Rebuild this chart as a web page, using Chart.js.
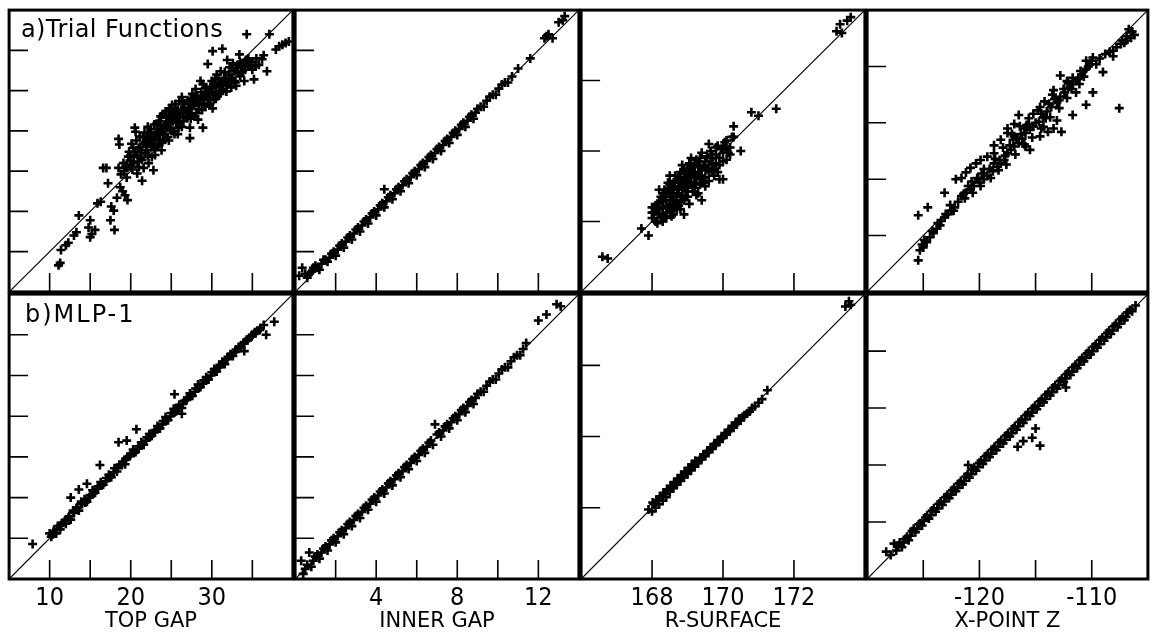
<!DOCTYPE html>
<html>
<head>
<meta charset="utf-8">
<script src="https://cdn.jsdelivr.net/npm/chart.js@4.4.1/dist/chart.umd.min.js"></script>
<style>
  body { margin: 0; background: #fff; }
  #wrap { position: relative; width: 1152px; height: 644px; overflow: hidden; background: #fff; }
  canvas { position: absolute; }
  .cap { position: absolute; font-family: 'DejaVu Sans', sans-serif; font-size: 24px; line-height: 24px; color: #000; white-space: nowrap; }
</style>
</head>
<body>
<div id="wrap">
  <canvas id="p00"></canvas>
  <canvas id="p01"></canvas>
  <canvas id="p02"></canvas>
  <canvas id="p03"></canvas>
  <canvas id="p10"></canvas>
  <canvas id="p11"></canvas>
  <canvas id="p12"></canvas>
  <canvas id="p13"></canvas>
  <div class="cap" style="left:21px; top:17px; letter-spacing:0.4px;">a)Trial Functions</div>
  <div class="cap" style="left:25px; top:302px; letter-spacing:2px;">b)MLP-1</div>
</div>
<script>
// axes: range, tick marks, labelled ticks, title
var topGapRange = [5, 40];
var topGapTicks = [10, 15, 20, 25, 30, 35];
var topGapLabels = [10, 20, 30];

var innerGapRange = [0, 14];
var innerGapTicks = [2, 4, 6, 8, 10, 12];
var innerGapLabels = [4, 8, 12];

var rSurfaceRange = [166, 174];
var rSurfaceTicks = [168, 170, 172];
var rSurfaceLabels = [168, 170, 172];

var xPointRange = [-130, -105];
var xPointTicks = [-125, -120, -115, -110];
var xPointLabels = [-120, -110];

var axisTitles = ['TOP GAP', 'INNER GAP', 'R-SURFACE', 'X-POINT Z'];

// a) Trial Functions  [actual, predicted]
var topGapTrial = [
  [11.1,8.3],[11.3,8.6],[11.4,10.2],[12.0,10.8],[12.3,11.1],[13.0,12.0],[13.3,12.4],[13.6,14.5],[14.8,13.0],[15.0,13.9],
  [15.2,12.2],[15.6,12.7],[15.0,11.8],[15.9,16.0],[16.3,16.2],[16.6,20.4],[17.0,20.4],[17.2,18.5],[17.5,13.9],[18.0,12.7],
  [17.9,15.1],[17.6,15.6],[18.3,16.7],[18.5,20.4],[18.5,24.0],[18.6,23.3],[18.7,18.0],[19.0,17.5],[19.5,19.2],[19.6,16.4],
  [19.3,17.0],[19.9,21.3],[20.3,22.9],[20.5,25.4],[20.6,24.9],[20.8,19.7],[21.0,20.5],[21.2,21.7],[21.4,18.8],[21.6,23.4],
  [21.8,22.2],[22.0,24.0],[22.2,21.0],[22.4,24.6],[22.6,23.0],[22.8,20.1],[23.0,22.0],[23.2,25.9],[23.4,24.5],[23.6,23.8],
  [23.8,22.6],[24.0,27.1],[24.2,25.8],[24.5,25.4],[24.6,24.2],[24.8,27.8],[25.0,26.5],[25.2,25.0],[25.4,27.2],[25.7,26.6],
  [25.9,25.4],[26.0,28.7],[26.2,27.6],[26.5,26.2],[26.9,27.5],[27.0,28.8],[27.3,25.4],[27.3,24.1],[27.5,27.0],[27.6,29.6],
  [27.8,28.2],[28.1,27.2],[28.5,28.7],[28.7,29.8],[28.9,30.8],[28.9,25.4],[29.2,28.0],[29.4,29.2],[29.7,29.9],[30.0,31.2],
  [30.1,27.8],[30.3,29.0],[30.6,32.0],[30.9,30.8],[31.0,29.6],[31.3,35.2],[31.5,31.6],[31.8,29.9],[32.0,31.0],[32.2,32.9],
  [32.5,31.6],[32.8,32.4],[33.0,30.6],[33.4,34.5],[33.6,33.0],[33.8,32.4],[34.0,31.2],[34.3,37.0],[34.5,33.0],[34.6,33.6],
  [35.0,32.6],[35.2,31.4],[35.5,34.0],[36.2,33.9],[36.8,32.4],[37.1,37.0],[37.9,35.1],[38.3,35.5],[38.7,35.7],[39.1,35.9],
  [39.5,36.1],[30.1,34.9],[29.5,33.3],[31.9,33.8],[19.2,20.0],[19.8,22.4],[20.0,20.8],[20.4,21.8],[21.0,22.8],[21.5,24.2],
  [22.0,22.6],[22.5,25.2],[23.0,24.0],[23.5,26.2],[24.0,24.6],[24.4,26.6],[25.0,27.6],[25.5,28.3],[26.0,26.0],[26.4,28.5],
  [27.0,26.6],[27.3,27.8],[28.0,30.2],[28.3,26.4],[29.0,29.0],[29.8,28.4],[30.5,30.4],[31.2,30.6],[32.4,30.4],[33.2,32.2],
  [34.2,33.8],[18.8,19.6],[19.1,21.0],[19.4,20.6],[19.7,21.8],[20.1,23.4],[20.2,20.2],[20.5,22.4],[20.7,23.8],[20.9,21.2],
  [21.1,24.3],[21.3,22.6],[21.6,20.4],[21.7,24.8],[21.9,23.2],[22.1,25.5],[22.3,23.8],[22.6,21.8],[22.7,24.2],[22.9,25.8],
  [23.1,23.0],[23.3,24.9],[23.6,25.2],[23.7,26.8],[23.9,23.6],[24.1,25.3],[24.3,27.4],[24.5,26.0],[24.7,23.8],[24.9,26.2],
  [25.1,28.2],[25.3,26.9],[25.6,27.4],[25.8,24.6],[26.0,27.1],[26.3,29.2],[26.6,27.8],[26.8,26.8],[27.1,28.3],[27.4,29.0],
  [27.7,28.7],[27.9,26.8],[28.2,29.4],[28.4,28.2],[28.6,31.2],[28.8,27.6],[29.1,29.6],[29.3,30.4],[29.6,28.8],[29.9,30.5],
  [30.2,29.6],[30.4,31.5],[30.7,29.3],[31.0,31.0],[31.1,32.4],[31.4,30.2],[31.7,31.2],[32.1,32.0],[32.6,33.4],[32.9,31.0],
  [33.2,33.2],[33.5,31.8],[33.9,33.2],[34.8,33.2],[35.8,33.2],[36.4,34.4],
  [19.5,20.5],[20.0,22.0],[20.3,21.0],[20.8,22.0],[21.1,23.0],[21.4,21.4],[21.8,23.6],[22.1,22.0],[22.3,24.8],[22.6,23.5],
  [22.9,22.8],[23.2,24.6],[23.4,23.2],[23.7,25.6],[23.9,24.9],[24.2,23.9],[24.4,25.6],[24.7,26.9],[24.9,25.2],[25.2,26.2],
  [25.4,24.6],[25.6,26.0],[25.8,27.6],[26.1,26.7],[26.3,25.5],[26.6,28.4],[26.8,27.2],[27.1,27.8],[27.4,26.5],[27.6,28.1],
  [27.9,29.2],[28.1,28.6],[28.4,27.7],[28.7,29.2],[28.9,28.4],[29.2,30.3],[29.5,29.7],[29.7,28.2],[30.0,29.8],[30.2,30.8],
  [30.5,29.0],[30.8,31.4],[31.1,30.0],[31.4,31.0],[31.6,32.3],[31.9,30.7],[32.2,31.5],[32.5,32.8],[32.8,31.2],[33.1,32.8],
  [33.5,33.5],[33.8,33.0],[34.1,32.6],[34.5,34.0],[35.0,33.6],[35.4,33.0]
];

var innerGapTrial = [
  [0.2,0.8],[0.35,1.2],[0.6,0.7],[0.8,1.0],[1.0,1.3],[1.2,1.1],[1.4,1.6],[1.6,1.5],[1.8,1.9],[2.0,1.8],
  [2.2,2.3],[2.4,2.2],[2.6,2.7],[2.8,2.6],[3.0,3.1],[3.2,3.0],[3.4,3.5],[3.6,3.4],[3.8,3.9],[4.0,3.8],
  [4.2,4.3],[4.4,5.1],[4.4,4.2],[4.6,4.7],[4.8,4.6],[5.0,5.1],[5.2,5.0],[5.4,5.5],[5.6,5.4],[5.8,5.9],
  [6.0,5.8],[6.2,6.3],[6.4,6.2],[6.6,6.7],[6.8,6.6],[7.0,7.1],[7.2,7.0],[7.4,7.5],[7.6,7.4],[7.8,7.9],
  [8.0,7.8],[8.2,8.3],[8.4,8.2],[8.6,8.7],[8.8,8.6],[9.0,9.1],[9.3,9.2],[9.6,9.7],[9.9,9.8],[10.2,10.3],
  [10.5,10.4],[11.0,11.1],[11.6,11.6],[12.3,12.6],[12.5,12.8],[12.7,12.6],[13.0,13.4],[13.2,13.5],[13.3,13.7],
  [0.5,0.9],[0.7,0.9],[0.9,1.2],[1.1,1.2],[1.3,1.4],[1.5,1.6],[1.7,1.7],[1.9,2.0],[2.1,2.1],[2.3,2.4],
  [2.5,2.5],[2.7,2.8],[2.9,2.9],[3.1,3.2],[3.3,3.3],[3.5,3.6],[3.7,3.7],[3.9,4.0],[4.1,4.1],[4.3,4.4],
  [4.5,4.5],[4.7,4.8],[4.9,4.9],[5.1,5.2],[5.3,5.3],[5.5,5.6],[5.7,5.7],[5.9,6.0],[6.1,6.1],[6.3,6.4],
  [6.5,6.5],[6.7,6.8],[6.9,6.9],[7.1,7.2],[7.3,7.3],[7.5,7.6],[7.7,7.7],[7.9,8.0],[8.1,8.1],[8.3,8.4],
  [8.5,8.5],[8.7,8.8],[8.9,8.9],[9.15,9.2],[9.45,9.5],[9.75,9.8],[10.05,10.1],[10.35,10.4],[10.7,10.7],[12.4,12.7]
];

var rSurfaceTrial = [
  [166.6,167.0],[166.75,166.95],[167.7,167.8],[167.9,167.6],[170.0,169.2],[170.5,170.0],[170.8,171.1],[171.0,171.0],
  [171.5,171.2],[170.3,170.7],[170.3,170.4],[173.2,173.4],[173.3,173.6],[173.35,173.35],[173.5,173.7],[173.6,173.8],
  [168.0,168.1],[168.0,168.4],[168.05,168.25],[168.1,168.0],[168.15,168.5],[168.2,168.2],[168.25,168.7],[168.3,168.4],
  [168.3,168.0],[168.35,168.9],[168.4,168.6],[168.4,168.25],[168.45,169.1],[168.5,168.8],[168.5,168.45],[168.55,168.15],
  [168.6,169.0],[168.6,168.6],[168.65,169.3],[168.7,168.8],[168.7,168.35],[168.75,169.1],[168.8,168.55],[168.8,169.4],
  [168.85,168.9],[168.9,168.2],[168.9,169.2],[168.95,168.7],[169.0,169.5],[169.0,169.0],[169.05,168.5],[169.1,169.3],
  [169.15,168.85],[169.2,169.6],[169.2,169.1],[169.3,169.4],[169.3,168.8],[169.35,169.8],[169.4,169.2],[169.45,169.55],
  [169.5,169.0],[169.55,169.85],[169.6,169.4],[169.65,170.0],[169.7,169.65],[169.75,169.3],[169.8,169.9],[169.85,170.15],
  [169.9,169.6],[170.0,169.95],[170.05,170.25],[170.1,169.75],[170.2,170.1],[170.25,170.4],[169.1,169.8],[168.5,169.3],
  [168.2,168.9],[169.4,168.6],[169.9,169.2],[168.85,169.6],[169.6,170.2],[168.3,168.65],[168.6,168.95],
  [168.1,168.3],[168.2,168.55],[168.3,168.8],[168.35,168.15],[168.45,168.4],[168.5,169.05],[168.55,168.7],[168.65,168.5],
  [168.7,169.2],[168.75,168.9],[168.8,169.0],[168.9,169.45],[168.95,168.95],[169.0,168.7],[169.05,169.35],[169.1,169.1],
  [169.15,169.55],[169.25,169.25],[169.3,169.6],[169.35,169.05],[169.4,169.45],[169.5,169.7],[169.5,169.25],[169.6,169.6],
  [169.7,169.9],[169.75,169.5],[169.8,170.1],[169.9,169.8],[170.0,170.1],[170.1,170.3],[170.15,169.95],[168.0,168.25],
  [168.15,167.95],[168.4,168.85],[168.6,168.35],[168.7,168.6],[168.85,168.75],[169.0,169.2],[169.2,168.95],[169.25,169.75],
  [168.1,168.45],[168.2,168.35],[168.25,168.1],[168.3,168.55],[168.35,168.75],[168.4,168.45],[168.45,168.95],[168.5,168.6],
  [168.55,168.3],[168.6,168.8],[168.65,169.15],[168.7,168.7],[168.75,168.45],[168.8,169.25],[168.85,169.05],[168.9,168.6],
  [168.95,169.35],[169.0,168.85],[169.05,169.65],[169.1,169.45],[169.15,169.0],[169.2,169.4],[169.25,168.75],[169.3,169.7],
  [169.35,169.3],[169.4,169.95],[169.45,169.1],[169.55,169.5],[169.6,169.15],[169.65,169.8],[169.7,169.45],[169.8,169.65],
  [169.85,169.4],[169.95,170.05],[170.0,169.7],[170.1,170.05],[170.2,169.9],[168.55,168.9],[168.75,169.25],[168.95,169.15],
  [169.15,169.35],[169.35,169.55],[168.4,168.1],[168.6,168.2],[168.8,168.35]
];

var xPointTrial = [
  [-125.45,-127.2],[-125.3,-126.3],[-125.0,-126.05],[-124.7,-125.6],[-124.4,-125.15],[-124.1,-124.8],[-123.8,-124.4],
  [-123.5,-124.1],[-123.4,-123.7],[-123.1,-123.4],[-122.8,-123.1],[-122.5,-122.8],[-122.2,-122.5],[-125.45,-123.2],
  [-124.6,-122.5],[-123.1,-121.2],[-122.1,-120.0],[-121.6,-119.9],[-121.2,-119.4],[-120.8,-119.0],[-120.3,-118.6],
  [-119.9,-118.3],[-119.3,-118.0],[-121.6,-121.5],[-121.2,-121.2],[-120.8,-120.9],[-120.5,-120.6],[-120.0,-120.3],
  [-119.6,-120.0],[-119.3,-119.7],[-118.8,-119.3],[-118.4,-118.9],[-118.1,-118.6],[-117.8,-118.3],[-117.5,-117.7],
  [-117.2,-117.4],[-116.9,-117.1],[-116.5,-116.8],[-116.2,-116.4],[-115.9,-115.9],[-115.5,-115.6],[-115.2,-115.35],
  [-114.7,-114.9],[-114.3,-114.5],[-114.0,-114.0],[-113.6,-113.6],[-113.1,-113.2],[-112.8,-112.7],[-112.4,-112.3],
  [-111.95,-111.8],[-111.7,-111.55],[-111.2,-111.1],[-110.9,-110.7],[-110.5,-110.2],[-110.2,-109.8],[-109.9,-109.2],
  [-110.5,-109.5],[-115.9,-117.1],[-115.5,-117.4],[-114.6,-116.2],[-113.4,-115.5],[-113.9,-115.8],[-112.7,-115.8],
  [-111.7,-114.3],[-110.5,-113.4],[-109.9,-112.3],[-109.0,-110.5],[-107.55,-113.7],[-112.8,-110.8],[-116.5,-114.3],
  [-117.5,-115.9],[-118.1,-116.5],[-118.7,-117.0],[-114.6,-113.6],[-115.2,-114.2],[-116.9,-115.1],[-117.5,-115.5],
  [-113.4,-112.1],[-112.2,-111.3],[-111.7,-111.0],[-111.1,-111.55],[-113.1,-114.8],[-114.3,-115.35],[-118.7,-118.6],
  [-119.6,-119.1],[-120.2,-119.9],[-118.7,-117.7],[-116.9,-116.2],[-115.8,-115.2],[-108.1,-108.6],[-107.8,-108.3],
  [-107.4,-108.0],[-106.95,-107.7],[-106.5,-107.45],[-106.2,-107.2],[-106.4,-106.9],[-106.7,-106.7],[-107.3,-107.7],
  [-108.1,-109.1],[-125.1,-125.8],[-124.9,-125.4],[-124.2,-124.6],[-123.7,-123.9],[-123.0,-123.1],[-122.6,-122.3],
  [-122.3,-122.8],[-121.9,-122.0],[-121.4,-121.3],[-121.0,-120.6],[-120.7,-120.2],[-120.1,-120.0],[-119.8,-119.5],
  [-119.1,-119.1],[-118.6,-118.2],[-118.2,-118.3],[-117.7,-117.9],[-117.3,-117.0],[-117.0,-116.5],[-116.7,-116.3],
  [-116.3,-116.0],[-116.0,-115.5],[-115.6,-115.1],[-115.0,-115.0],[-114.5,-114.2],[-114.1,-114.6],[-113.8,-113.3],
  [-113.3,-112.9],[-112.9,-113.0],[-112.5,-112.0],[-112.1,-111.5],[-111.8,-112.0],[-111.4,-111.3],[-111.0,-110.4],
  [-110.7,-110.9],[-110.3,-110.0],[-110.0,-109.5],[-109.6,-109.8],[-109.3,-109.3],[-108.8,-108.9],[-108.4,-108.7],
  [-107.1,-107.9],[-106.9,-107.3],
  [-121.3,-121.7],[-120.6,-121.2],[-119.9,-120.6],[-119.0,-119.9],[-118.3,-119.2],[-117.6,-118.7],[-116.8,-117.8],
  [-116.0,-116.9],[-115.3,-116.3],[-114.5,-115.5],[-113.7,-114.5],[-112.9,-113.7],[-112.2,-112.8],[-111.4,-112.3],
  [-117.9,-117.2],[-117.1,-116.0],[-116.4,-115.3],[-115.6,-114.6],[-114.8,-113.9],[-114.2,-113.1],[-113.5,-112.5]
];

// b) MLP-1  [actual, predicted]
var topGapMlp = [
  [7.9,9.3],[10.0,10.6],[10.2,10.2],[10.5,10.9],[10.8,10.6],[11.0,11.5],[11.3,11.1],[11.6,11.9],[12.0,11.8],[12.3,12.5],
  [12.6,12.3],[12.6,15.0],[13.0,13.1],[13.3,13.7],[13.6,13.4],[13.6,16.0],[14.0,14.2],[14.3,14.8],[14.6,14.5],[14.6,16.7],
  [15.0,15.3],[15.3,15.9],[15.6,15.6],[16.0,16.4],[16.2,19.0],[16.3,16.9],[16.6,16.6],[17.0,17.4],[17.3,17.8],[17.6,17.5],
  [18.0,18.6],[18.3,18.2],[18.5,21.8],[18.6,19.0],[19.0,19.4],[19.3,19.1],[19.5,22.0],[19.6,20.0],[20.0,20.4],[20.3,20.9],
  [20.6,20.6],[20.7,23.4],[21.0,21.3],[21.3,21.8],[21.6,21.5],[22.0,22.4],[22.3,22.8],[22.6,22.6],[23.0,23.3],[23.3,23.8],
  [23.6,23.5],[24.0,24.4],[24.3,24.9],[24.6,24.5],[25.0,25.4],[25.3,25.9],[25.4,27.7],[25.6,25.6],[26.0,26.4],[26.3,26.0],
  [26.3,25.3],[26.6,26.9],[27.0,27.3],[27.3,27.8],[27.6,27.5],[28.0,28.4],[28.3,28.9],[28.6,28.6],[29.0,29.4],[29.3,29.8],
  [29.6,29.5],[30.0,30.4],[30.3,30.8],[30.6,30.5],[31.0,31.3],[31.3,31.7],[31.6,31.4],[32.0,32.3],[32.3,32.6],[32.6,32.4],
  [33.0,33.2],[33.3,33.5],[33.6,33.4],[34.0,33.0],[34.0,34.1],[34.3,34.4],[34.6,34.6],[35.0,35.0],[35.3,35.3],[35.6,35.5],
  [36.0,35.8],[36.4,36.2],[36.7,35.0],[37.7,36.6],
  [10.4,10.5],[10.9,11.1],[11.4,11.6],[11.9,12.2],[12.4,12.7],[12.9,13.4],[13.4,13.8],[13.9,14.5],[14.4,14.4],[14.9,15.0],
  [15.4,15.5],[15.9,16.1],[16.4,16.5],[16.9,17.0],[17.4,17.5],[17.9,18.1],[18.4,18.7],[18.9,19.0],[19.4,19.7],[19.9,20.1],
  [20.4,20.5],[20.9,21.0],[21.4,21.5],[21.9,22.0],[22.4,22.5],[22.9,23.0],[23.4,23.5],[23.9,24.0],[24.4,24.5],[24.9,25.0],
  [25.4,25.5],[25.9,26.1],[26.4,26.5],[26.9,27.0],[27.4,27.5],[27.9,28.0],[28.4,28.5],[28.9,29.0],[29.4,29.5],[29.9,30.0],
  [30.4,30.5],[30.9,31.0],[31.4,31.5],[31.9,32.0],[32.4,32.5],[32.9,32.9],[33.4,33.4],[33.9,33.9],[34.4,34.3],[34.9,34.8],
  [35.4,35.2],[35.9,35.6]
];

var innerGapMlp = [
  [0.4,0.25],[0.6,0.7],[0.8,0.6],[1.0,1.1],[1.2,1.0],[1.4,1.5],[1.6,1.4],[1.8,1.9],[2.0,1.8],[2.2,2.3],
  [2.4,2.2],[2.6,2.7],[2.8,2.6],[3.0,3.1],[3.2,3.0],[3.4,3.5],[3.6,3.4],[3.8,3.9],[4.0,3.8],[4.2,4.3],
  [4.4,4.2],[4.6,4.7],[4.8,4.6],[5.0,5.1],[5.2,5.0],[5.4,5.5],[5.6,5.4],[5.8,5.9],[6.0,5.8],[6.2,6.3],
  [6.4,6.2],[6.6,6.7],[6.8,6.6],[7.0,7.1],[7.2,7.0],[7.4,7.5],[7.6,7.4],[7.8,7.9],[8.0,7.8],[8.2,8.3],
  [8.4,8.2],[8.6,8.7],[8.8,8.6],[9.0,9.1],[9.3,9.2],[9.6,9.7],[9.9,9.8],[10.2,10.3],[10.5,10.4],[10.8,10.9],
  [11.1,11.0],[11.4,11.6],[12.0,12.7],[12.4,13.0],[12.9,13.5],[13.1,13.4],[0.3,0.9],[0.7,1.3],[6.9,7.6],
  [0.5,0.5],[0.9,0.9],[1.1,1.2],[1.3,1.3],[1.5,1.6],[1.7,1.7],[1.9,2.0],[2.1,2.1],[2.3,2.4],[2.5,2.5],
  [2.7,2.8],[2.9,2.9],[3.1,3.2],[3.3,3.3],[3.5,3.6],[3.7,3.7],[3.9,4.0],[4.1,4.1],[4.3,4.4],[4.5,4.5],
  [4.7,4.8],[4.9,4.9],[5.1,5.2],[5.3,5.3],[5.5,5.6],[5.7,5.7],[5.9,6.0],[6.1,6.1],[6.3,6.4],[6.5,6.5],
  [6.7,6.8],[7.1,7.2],[7.3,7.3],[7.5,7.6],[7.7,7.7],[7.9,8.0],[8.1,8.1],[8.3,8.4],[8.5,8.5],[8.7,8.8],
  [8.9,8.9],[9.15,9.2],[9.45,9.5],[9.75,9.8],[10.05,10.1],[10.35,10.4],[10.65,10.7],[10.95,11.0],[11.25,11.3]
];

var rSurfaceMlp = [
  [167.9,167.95],[168.0,167.9],[168.05,168.1],[168.1,168.0],[168.15,168.2],[168.2,168.1],[168.25,168.3],[168.3,168.2],
  [168.35,168.4],[168.4,168.3],[168.45,168.5],[168.5,168.45],[168.55,168.6],[168.6,168.55],[168.65,168.7],[168.7,168.65],
  [168.75,168.8],[168.8,168.75],[168.85,168.9],[168.9,168.85],[168.95,169.0],[169.0,168.95],[169.05,169.1],[169.1,169.05],
  [169.15,169.2],[169.2,169.15],[169.25,169.3],[169.3,169.25],[169.4,169.4],[169.5,169.45],[169.6,169.6],[169.7,169.65],
  [169.8,169.8],[169.9,169.85],[170.0,170.0],[170.1,170.05],[170.2,170.2],[170.3,170.25],[170.4,170.4],[170.5,170.45],
  [170.6,170.6],[170.75,170.7],[170.9,170.85],[171.1,171.05],[171.25,171.3],[173.45,173.65],[173.55,173.8],[173.6,173.7],
  [168.02,168.15],[168.12,168.22],[168.22,168.32],[168.32,168.42],[168.42,168.52],[168.52,168.62],[168.62,168.72],
  [168.72,168.82],[168.82,168.92],[168.92,169.02],[169.02,169.12],[169.12,169.22],[169.22,169.32],[169.35,169.35],
  [169.45,169.5],[169.55,169.55],[169.65,169.7],[169.75,169.75],[169.85,169.9],[169.95,169.95],[170.05,170.1],
  [170.15,170.15],[170.25,170.3],[170.35,170.35],[170.45,170.5],[170.55,170.55],[170.68,170.65],[170.82,170.8],[171.0,170.95]
];

var xPointMlp = [
  [-127.4,-127.5],[-127.1,-126.8],[-126.9,-127.2],[-126.6,-126.5],[-126.3,-126.6],[-126.0,-125.8],[-125.7,-125.9],
  [-125.4,-125.2],[-125.1,-125.3],[-124.8,-124.6],[-124.5,-124.7],[-124.2,-124.0],[-123.9,-124.1],[-123.6,-123.4],
  [-123.3,-123.5],[-123.0,-122.8],[-122.7,-122.9],[-122.4,-122.2],[-122.1,-122.3],[-121.8,-121.6],[-121.5,-121.7],
  [-121.2,-121.0],[-120.9,-121.1],[-120.6,-120.4],[-120.3,-120.5],[-120.0,-119.8],[-119.7,-119.9],[-119.4,-119.2],
  [-119.1,-119.3],[-118.8,-118.6],[-118.5,-118.7],[-118.2,-118.0],[-117.9,-118.1],[-117.6,-117.4],[-117.3,-117.5],
  [-117.0,-116.8],[-116.7,-116.9],[-116.4,-116.2],[-116.1,-116.3],[-115.8,-115.6],[-115.5,-115.7],[-115.2,-115.0],
  [-114.9,-115.1],[-114.6,-114.4],[-114.3,-114.5],[-114.0,-113.8],[-113.7,-113.9],[-113.4,-113.2],[-113.1,-113.3],
  [-112.8,-112.6],[-112.5,-112.7],[-112.2,-112.0],[-111.9,-112.1],[-111.6,-111.4],[-111.3,-111.5],[-111.0,-110.8],
  [-110.7,-110.9],[-110.4,-110.2],[-110.1,-110.3],[-109.8,-109.6],[-109.5,-109.7],[-109.2,-109.0],[-108.9,-109.1],
  [-108.6,-108.4],[-108.3,-108.5],[-108.0,-107.8],[-107.7,-107.9],[-107.4,-107.2],[-107.1,-107.3],[-106.8,-106.6],
  [-106.4,-106.5],[-106.1,-106.0],[-128.3,-127.6],[-127.9,-127.9],[-127.6,-126.9],[-116.1,-117.9],[-115.3,-117.6],
  [-114.6,-118.3],[-115.0,-116.8],[-116.6,-118.4],[-121.0,-120.0],[-112.3,-113.2],
  [-127.25,-127.1],[-126.75,-126.8],[-126.45,-126.3],[-126.15,-126.2],[-125.85,-125.6],[-125.55,-125.6],[-125.25,-125.1],
  [-124.95,-124.9],[-124.65,-124.4],[-124.35,-124.4],[-124.05,-123.8],[-123.75,-123.8],[-123.45,-123.2],[-123.15,-123.2],
  [-122.85,-122.6],[-122.55,-122.6],[-122.25,-122.0],[-121.95,-122.0],[-121.65,-121.4],[-121.35,-121.4],[-121.05,-120.8],
  [-120.75,-120.8],[-120.45,-120.2],[-120.15,-120.2],[-119.85,-119.6],[-119.55,-119.6],[-119.25,-119.0],[-118.95,-119.0],
  [-118.65,-118.4],[-118.35,-118.4],[-118.05,-117.8],[-117.75,-117.8],[-117.45,-117.2],[-117.15,-117.2],[-116.85,-116.6],
  [-116.55,-116.6],[-116.25,-116.0],[-115.95,-116.0],[-115.65,-115.4],[-115.35,-115.4],[-115.05,-114.8],[-114.75,-114.8],
  [-114.45,-114.2],[-114.15,-114.2],[-113.85,-113.6],[-113.55,-113.6],[-113.25,-113.0],[-112.95,-113.0],[-112.65,-112.4],
  [-112.35,-112.4],[-112.05,-111.8],[-111.75,-111.8],[-111.45,-111.2],[-111.15,-111.2],[-110.85,-110.6],[-110.55,-110.6],
  [-110.25,-110.0],[-109.95,-110.0],[-109.65,-109.4],[-109.35,-109.4],[-109.05,-108.8],[-108.75,-108.8],[-108.45,-108.2],
  [-108.15,-108.2],[-107.85,-107.6],[-107.55,-107.6],[-107.25,-107.0],[-106.95,-107.0],[-106.6,-106.4]
];

var colLeft = [8, 294, 580, 866];
var colRight = [294, 580, 866, 1149];
var rowTop = [9, 293];
var rowBottom = [293, 579];

var framePlugin = {
    id: 'frame',
    afterDatasetsDraw: function(chart, args, opts) {
        var ctx = chart.ctx;
        var a = chart.chartArea;
        var xs = chart.scales.x, ys = chart.scales.y;
        ctx.save();
        ctx.strokeStyle = '#000';
        ctx.lineWidth = 1.6;
        opts.ticks.forEach(function(v) {
            var px = xs.getPixelForValue(v);
            var py = ys.getPixelForValue(v);
            ctx.beginPath();
            ctx.moveTo(px, a.bottom);
            ctx.lineTo(px, a.bottom - 19);
            ctx.moveTo(a.left, py);
            ctx.lineTo(a.left + 19, py);
            ctx.stroke();
        });
        ctx.lineWidth = 3;
        ctx.strokeRect(a.left, a.top, a.right - a.left, a.bottom - a.top);
        ctx.restore();
    }
};

function makePanel(row, col, points, range, ticks, labels, title) {
    var canvas = document.getElementById('p' + row + col);
    var pad = 6;
    var labelBand = 64;
    var w = colRight[col] - colLeft[col];
    var h = rowBottom[row] - rowTop[row];
    var bottomRow = row === 1;
    canvas.width = w + 2 * pad;
    canvas.height = h + pad + (bottomRow ? labelBand : pad);
    canvas.style.left = (colLeft[col] - pad) + 'px';
    canvas.style.top = (rowTop[row] - pad) + 'px';

    var xScale = {
        type: 'linear',
        min: range[0],
        max: range[1],
        display: bottomRow,
        grid: { display: false, drawTicks: false },
        border: { display: false },
        afterBuildTicks: function(s) {
            s.ticks = labels.map(function(v) { return { value: v }; });
        },
        ticks: {
            autoSkip: false,
            maxRotation: 0,
            padding: 4,
            color: '#000',
            font: { family: "'Liberation Sans Narrow', 'DejaVu Sans Condensed', sans-serif", size: 25 },
            callback: function(v) { return String(v); }
        },
        title: {
            display: true,
            text: title,
            color: '#000',
            padding: { top: 0, bottom: 9 },
            font: { family: "'DejaVu Sans', sans-serif", size: 21 }
        }
    };
    if (bottomRow) {
        xScale.afterFit = function(s) { s.height = labelBand; };
    }

    new Chart(canvas.getContext('2d'), {
        type: 'scatter',
        data: {
            datasets: [{
                data: points,
                pointStyle: 'cross',
                pointRadius: 4.5,
                pointBorderWidth: 2.6,
                borderColor: '#000',
                backgroundColor: '#000'
            }, {
                data: [[range[0], range[0]], [range[1], range[1]]],
                showLine: true,
                borderColor: '#000',
                borderWidth: 1.2,
                pointRadius: 0
            }]
        },
        options: {
            responsive: false,
            animation: false,
            events: [],
            layout: { padding: { left: pad, right: pad, top: pad, bottom: bottomRow ? 0 : pad } },
            plugins: {
                legend: { display: false },
                tooltip: { enabled: false },
                frame: { ticks: ticks }
            },
            scales: {
                x: xScale,
                y: {
                    type: 'linear',
                    min: range[0],
                    max: range[1],
                    display: false
                }
            }
        },
        plugins: [framePlugin]
    });
}

makePanel(0, 0, topGapTrial, topGapRange, topGapTicks, topGapLabels, axisTitles[0]);
makePanel(0, 1, innerGapTrial, innerGapRange, innerGapTicks, innerGapLabels, axisTitles[1]);
makePanel(0, 2, rSurfaceTrial, rSurfaceRange, rSurfaceTicks, rSurfaceLabels, axisTitles[2]);
makePanel(0, 3, xPointTrial, xPointRange, xPointTicks, xPointLabels, axisTitles[3]);
makePanel(1, 0, topGapMlp, topGapRange, topGapTicks, topGapLabels, axisTitles[0]);
makePanel(1, 1, innerGapMlp, innerGapRange, innerGapTicks, innerGapLabels, axisTitles[1]);
makePanel(1, 2, rSurfaceMlp, rSurfaceRange, rSurfaceTicks, rSurfaceLabels, axisTitles[2]);
makePanel(1, 3, xPointMlp, xPointRange, xPointTicks, xPointLabels, axisTitles[3]);
</script>
</body>
</html>
